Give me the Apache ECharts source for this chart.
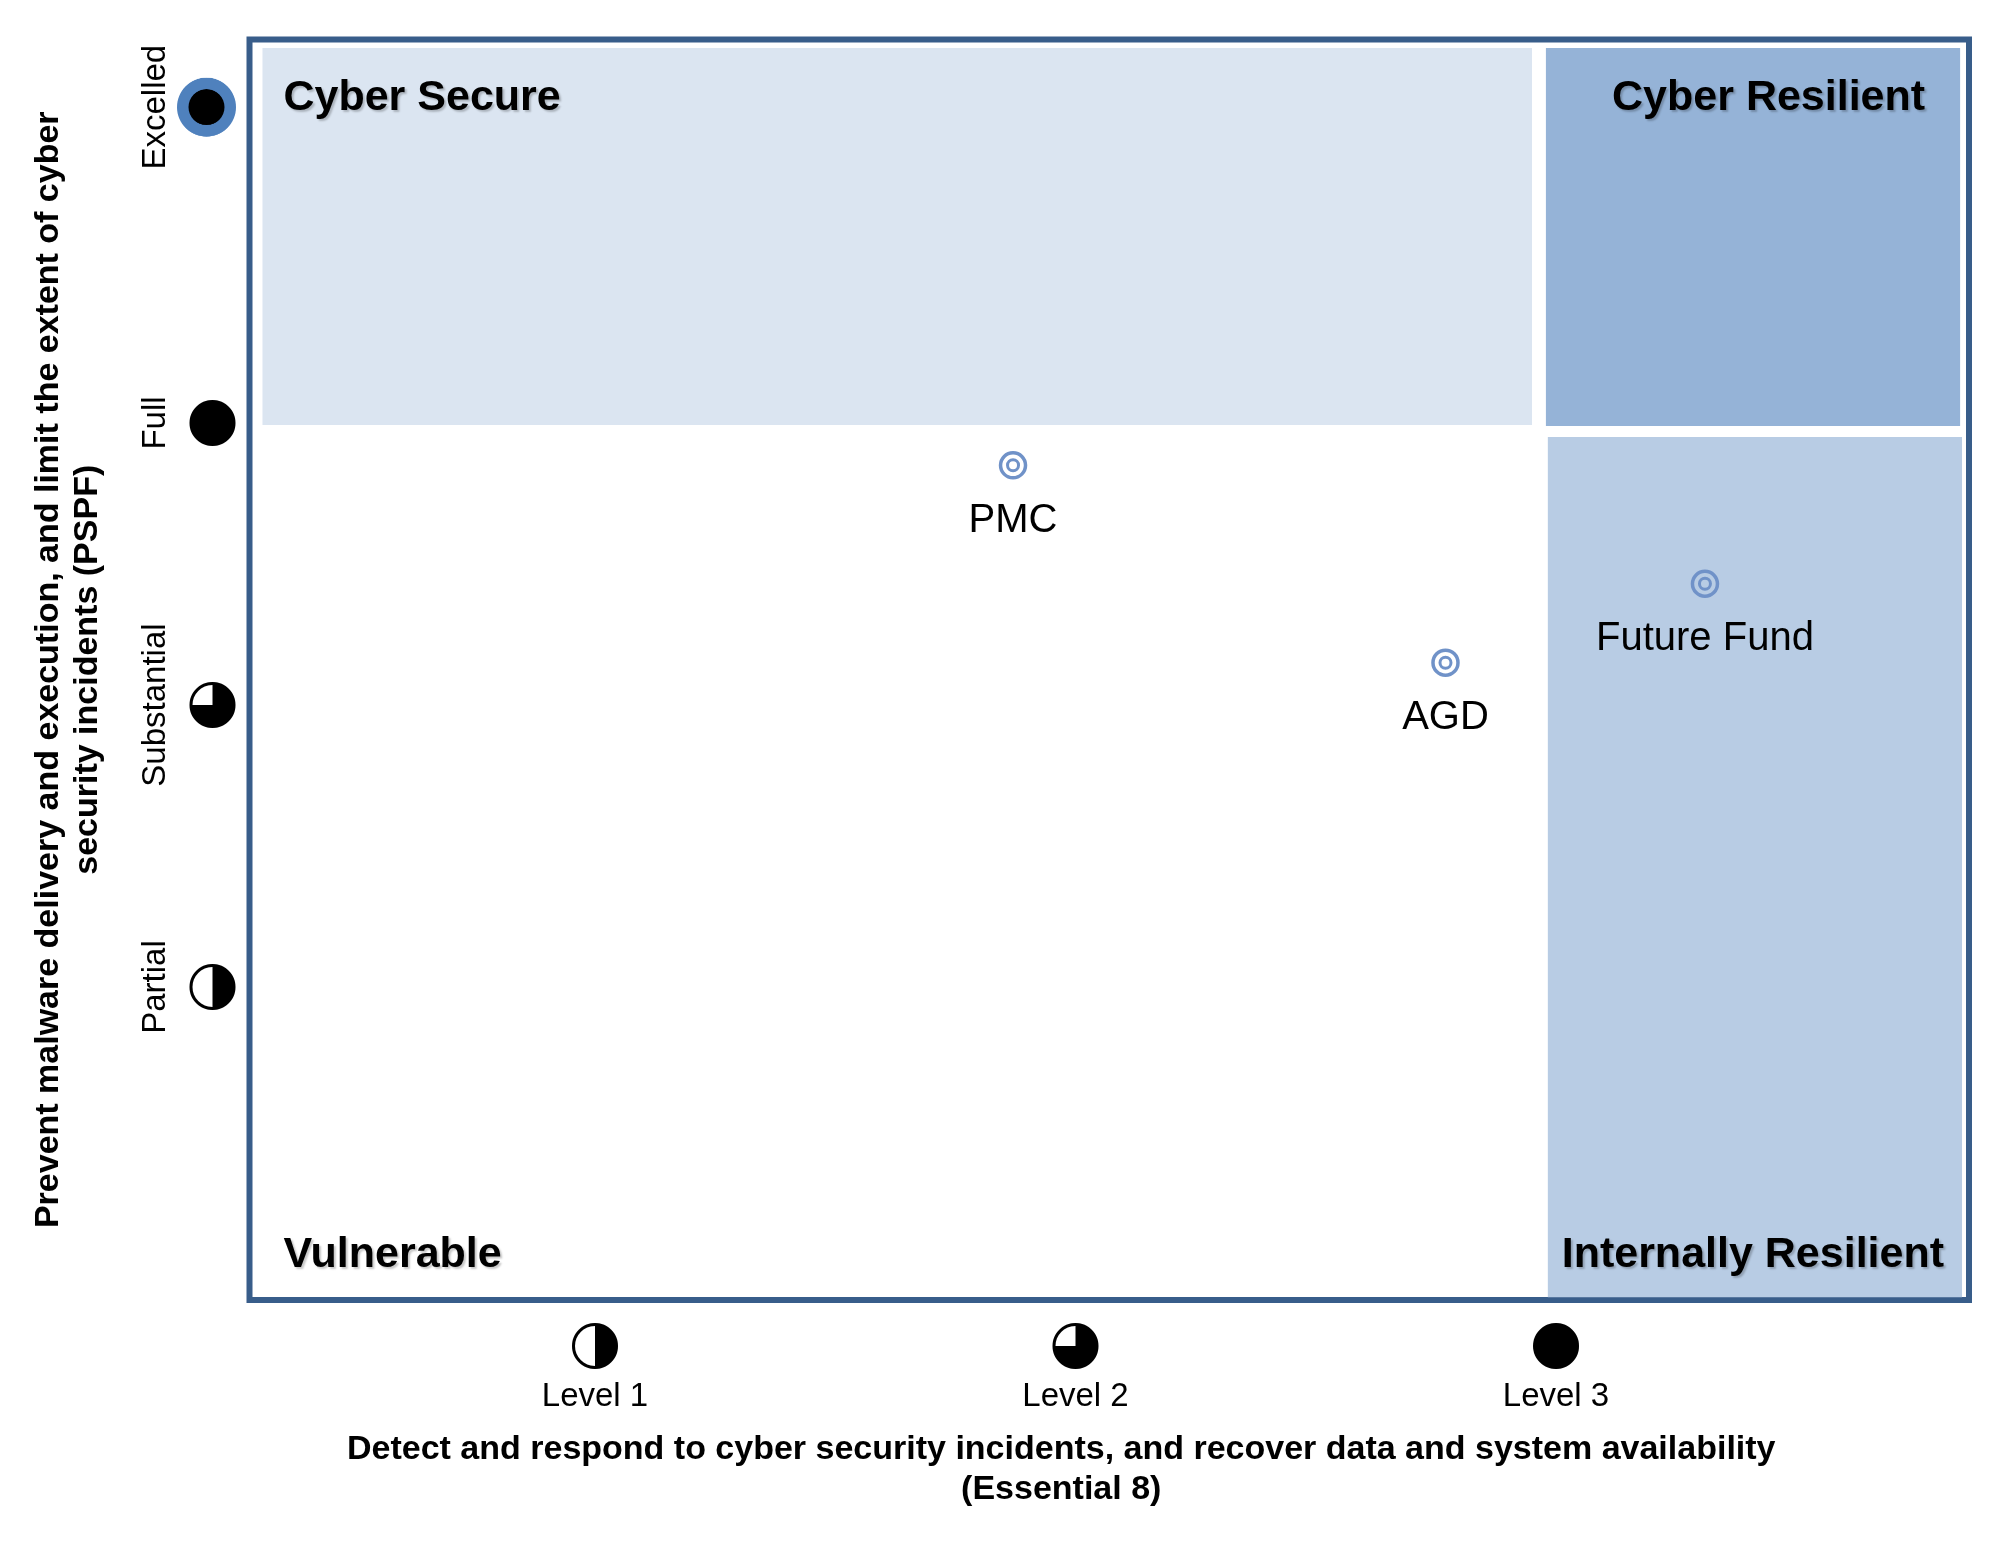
<!DOCTYPE html>
<html>
	<head>
		<meta charset="utf-8" />
		<title>cyber quadrant</title>
		<script src="https://cdn.jsdelivr.net/npm/echarts@6/dist/echarts.min.js"></script>
		<style>body{margin:0;background:#fff;}</style>
	</head>
	<body>
		<div id="quad" style="width:2003px;height:1543px;"></div>
	</body>
	<script type="text/javascript">

	// x axis levels (Essential 8)
	var xLevelNames = ['Level 1', 'Level 2', 'Level 3'];
	var xLevelValues = [1, 2, 3];
	var xLevelIcons = ['half', 'three', 'full'];

	// y axis levels (PSPF)
	var yLevelNames = ['Partial', 'Substantial', 'Full', 'Excelled'];
	var yLevelValues = [1, 2, 3, 4.12];
	var yLevelIcons = ['half', 'three', 'full', 'excelled'];

	// agencies
	var agencyNames = ['PMC', 'AGD', 'Future Fund'];
	var agencyX = [1.87, 2.77, 3.31];
	var agencyY = [2.85, 2.15, 2.43];

	// zones
	var zoneNames = ['Cyber Secure', 'Cyber Resilient', 'Vulnerable', 'Internally Resilient'];
	var zoneXFrom = [0.308, 2.979, 0.308, 2.983];
	var zoneXTo = [2.950, 3.841, 2.950, 3.845];
	var zoneYFrom = [2.993, 2.989, -0.1, -0.1];
	var zoneYTo = [4.33, 4.33, 2.95, 2.95];

	var FONT = 'Liberation Sans, Arial, sans-serif';

	// zone look
	var zoneColors = ['#DBE5F1', '#95B3D7', 'rgba(255,255,255,0)', '#B8CCE4'];
	var zoneLabelPos = ['insideTopLeft', 'insideTopRight', 'insideBottomLeft', 'insideBottomRight'];
	var zoneLabelDist = [21, 28, 21, 18];
	var zoneLabelOffset = [[0, 8], [-7, 1], [0, 0], [0, -3]];

	// little level icons drawn on canvas
	function makeIcon(kind) {
		var size = kind == 'excelled' ? 60 : 48;
		var k = 2;
		var c = document.createElement('canvas');
		c.width = size * k;
		c.height = size * k;
		var ctx = c.getContext('2d');
		ctx.scale(k, k);
		var m = size / 2;
		if (kind == 'excelled') {
			ctx.fillStyle = '#4F81BD';
			ctx.beginPath(); ctx.arc(m, m, 29.5, 0, Math.PI * 2); ctx.fill();
			ctx.fillStyle = '#000';
			ctx.beginPath(); ctx.arc(m, m, 18, 0, Math.PI * 2); ctx.fill();
			return c;
		}
		var r = 21.5;
		ctx.fillStyle = '#fff';
		ctx.beginPath(); ctx.arc(m, m, r, 0, Math.PI * 2); ctx.fill();
		ctx.fillStyle = '#000';
		ctx.beginPath();
		if (kind == 'full') {
			ctx.arc(m, m, r, 0, Math.PI * 2);
		} else if (kind == 'half') {
			ctx.moveTo(m, m); ctx.arc(m, m, r, -Math.PI / 2, Math.PI / 2);
		} else {
			ctx.moveTo(m, m); ctx.arc(m, m, r, -Math.PI / 2, Math.PI);
		}
		ctx.closePath();
		ctx.fill();
		ctx.strokeStyle = '#000';
		ctx.lineWidth = 3;
		ctx.beginPath(); ctx.arc(m, m, r, 0, Math.PI * 2); ctx.stroke();
		return c;
	}

	var iconRich = {};
	['half', 'three', 'full', 'excelled'].forEach(function (k) {
		var s = k == 'excelled' ? 60 : 48;
		iconRich[k] = {width: s, height: s, backgroundColor: {image: makeIcon(k)}};
	});

	var points = [];
	for (var i = 0; i < agencyNames.length; i++) {
		points.push({name: agencyNames[i], value: [agencyX[i], agencyY[i]]});
	}

	var zoneData = [];
	for (var i = 0; i < zoneNames.length; i++) {
		zoneData.push([
			{
				name: zoneNames[i],
				xAxis: zoneXFrom[i],
				yAxis: zoneYFrom[i],
				itemStyle: {color: zoneColors[i]},
				label: {
					position: zoneLabelPos[i],
					distance: zoneLabelDist[i],
					offset: zoneLabelOffset[i]
				}
			},
			{xAxis: zoneXTo[i], yAxis: zoneYTo[i]}
		]);
	}

	var xRich = {lvl: {fontSize: 33, fontFamily: FONT, color: '#000', lineHeight: 54}};
	var yRich = {};
	for (var key in iconRich) {
		xRich[key] = iconRich[key];
		yRich[key] = iconRich[key];
	}

	var myChart = echarts.init(document.getElementById('quad'));
	var option = {
		backgroundColor: '#fff',
		animation: false,
		textStyle: {fontFamily: FONT},
		grid: {
			left: 249.5,
			right: 34,
			top: 39.5,
			bottom: 243,
			show: true,
			backgroundColor: '#fff',
			borderColor: '#385D8A',
			borderWidth: 6
		},
		xAxis: {
			type: 'value',
			min: 0.281,
			max: 3.8595,
			axisLine: {show: false},
			axisTick: {show: false},
			splitLine: {show: false},
			axisLabel: {
				customValues: xLevelValues,
				margin: 22,
				color: '#000',
				formatter: function (v) {
					var i = xLevelValues.indexOf(v);
					return '{' + xLevelIcons[i] + '| }\n{lvl|' + xLevelNames[i] + '}';
				},
				rich: xRich
			},
			name: 'Detect and respond to cyber security incidents, and recover data and system availability\n(Essential 8)',
			nameLocation: 'middle',
			nameGap: 130,
			nameTextStyle: {
				fontSize: 34, fontWeight: 'bold', color: '#000', lineHeight: 40, fontFamily: FONT,
				padding: [0, 96, 0, 0]
			}
		},
		yAxis: [
			{
				type: 'value',
				min: -0.1099,
				max: 4.3599,
				position: 'left',
				axisLine: {show: false},
				axisTick: {show: false},
				splitLine: {show: false},
				axisLabel: {
					customValues: yLevelValues,
					rotate: 90,
					margin: 77,
					fontSize: 33,
					color: '#000',
					formatter: function (v) {
						return yLevelNames[yLevelValues.indexOf(v)];
					}
				},
				name: 'Prevent malware delivery and execution, and limit the extent of cyber\nsecurity incidents (PSPF)',
				nameLocation: 'middle',
				nameGap: 142,
				nameTextStyle: {fontSize: 34, fontWeight: 'bold', color: '#000', lineHeight: 39, fontFamily: FONT}
			},
			{
				type: 'value',
				min: -0.1099,
				max: 4.3599,
				position: 'left',
				axisLine: {show: false},
				axisTick: {show: false},
				splitLine: {show: false},
				axisLabel: {
					customValues: yLevelValues,
					margin: 13,
					formatter: function (v) {
						return '{' + yLevelIcons[yLevelValues.indexOf(v)] + '| }';
					},
					rich: yRich
				}
			}
		],
		series: [
			//zones
			{
				type: 'scatter',
				data: [],
				z: 1,
				markArea: {
					silent: true,
					label: {
						show: true,
						fontSize: 43,
						fontWeight: 'bold',
						color: '#000',
						fontFamily: FONT,
						textShadowColor: 'rgba(0,0,0,0.22)',
						textShadowBlur: 2,
						textShadowOffsetX: 2,
						textShadowOffsetY: 2
					},
					data: zoneData
				}
			},
			//agency outer ring
			{
				type: 'scatter',
				z: 3,
				data: points,
				symbolSize: 25,
				itemStyle: {color: 'rgba(0,0,0,0)', borderColor: '#7092C8', borderWidth: 3.5, opacity: 1},
				label: {
					show: true,
					position: 'bottom',
					distance: 21,
					formatter: '{b}',
					fontSize: 40,
					color: '#000',
					fontFamily: FONT
				}
			},
			//agency inner ring
			{
				type: 'scatter',
				z: 3,
				data: points,
				symbolSize: 11,
				itemStyle: {color: 'rgba(0,0,0,0)', borderColor: '#7092C8', borderWidth: 3, opacity: 1}
			}
		]
	};
	myChart.setOption(option);
	</script>
</html>
